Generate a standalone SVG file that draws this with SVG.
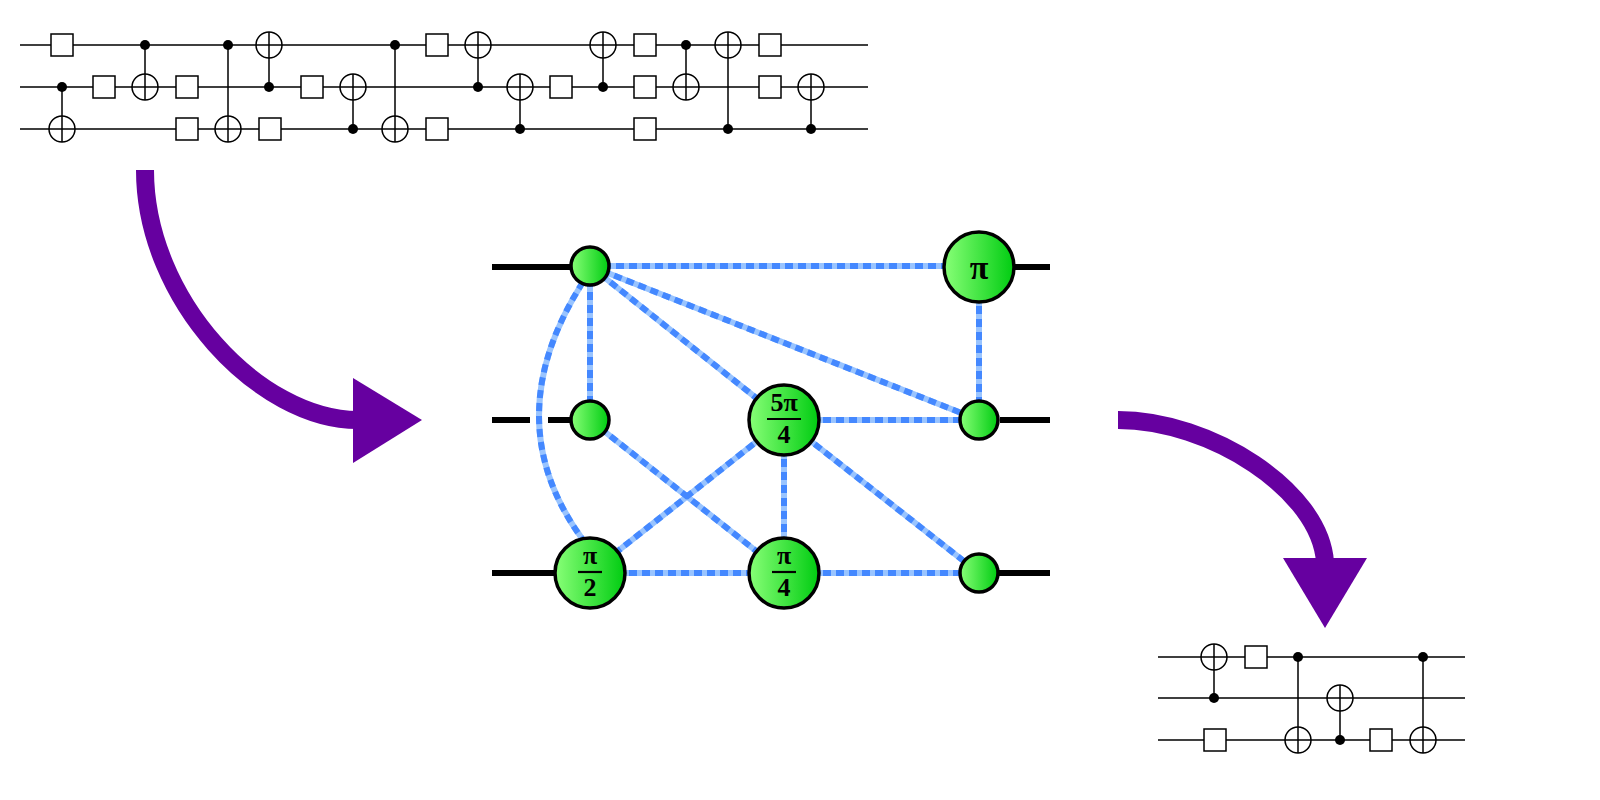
<svg xmlns="http://www.w3.org/2000/svg" width="1600" height="800" viewBox="0 0 1600 800">
<defs>
<linearGradient id="g" x1="0" x2="1" y1="0" y2="0"><stop offset="0" stop-color="#88ff77"/><stop offset="1" stop-color="#00cc11"/></linearGradient>
<g id="box"><rect x="-11" y="-11" width="22" height="22" fill="#fff" stroke="#000" stroke-width="1.5"/></g>
<g id="tg"><circle r="13" fill="#fff" stroke="#000" stroke-width="1.5"/><path d="M-13,0H13M0,-13V13" stroke="#000" stroke-width="1.5"/></g>
<circle id="dot" r="5" fill="#000"/>
</defs>
<style>
.w{stroke:#000;stroke-width:1.5;fill:none}
.hl{stroke:#99c4ff;stroke-width:6;fill:none}
.hd{stroke:#4488ff;stroke-width:6;fill:none;stroke-dasharray:8 5}
.bw{stroke:#000;stroke-width:6}
.n{fill:url(#g);stroke:#000;stroke-width:3.5}
.t{font-family:"Liberation Serif",serif;font-weight:bold;fill:#000;text-anchor:middle}
.ar{stroke:#6600a0;stroke-width:18;fill:none}
</style>
<g id="circuit1">
<path class="w" d="M20,45H868M20,87H868M20,129H868"/>
<path class="w" d="M62,87V142M145,45V100M228,45V142M269,32V87M353,74V129M395,45V142M478,32V87M520,74V129M603,32V87M686,45V100M728,32V129M811,74V129"/>
<use href="#box" x="62" y="45"/><use href="#dot" x="62" y="87"/><use href="#tg" x="62" y="129"/>
<use href="#box" x="104" y="87"/>
<use href="#dot" x="145" y="45"/><use href="#tg" x="145" y="87"/>
<use href="#box" x="187" y="87"/><use href="#box" x="187" y="129"/>
<use href="#dot" x="228" y="45"/><use href="#tg" x="228" y="129"/>
<use href="#tg" x="269" y="45"/><use href="#dot" x="269" y="87"/><use href="#box" x="270" y="129"/>
<use href="#box" x="312" y="87"/>
<use href="#tg" x="353" y="87"/><use href="#dot" x="353" y="129"/>
<use href="#dot" x="395" y="45"/><use href="#tg" x="395" y="129"/>
<use href="#box" x="437" y="45"/><use href="#box" x="437" y="129"/>
<use href="#tg" x="478" y="45"/><use href="#dot" x="478" y="87"/>
<use href="#tg" x="520" y="87"/><use href="#dot" x="520" y="129"/>
<use href="#box" x="561" y="87"/>
<use href="#tg" x="603" y="45"/><use href="#dot" x="603" y="87"/>
<use href="#box" x="645" y="45"/><use href="#box" x="645" y="87"/><use href="#box" x="645" y="129"/>
<use href="#dot" x="686" y="45"/><use href="#tg" x="686" y="87"/>
<use href="#tg" x="728" y="45"/><use href="#dot" x="728" y="129"/>
<use href="#box" x="770" y="45"/><use href="#box" x="770" y="87"/>
<use href="#tg" x="811" y="87"/><use href="#dot" x="811" y="129"/>
</g>
<g id="circuit2">
<path class="w" d="M1158,657H1465M1158,698H1465M1158,740H1465"/>
<path class="w" d="M1214,644V698M1298,657V753M1340,685V740M1423,657V753"/>
<use href="#tg" x="1214" y="657"/><use href="#dot" x="1214" y="698"/><use href="#box" x="1215" y="740"/>
<use href="#box" x="1256" y="657"/>
<use href="#dot" x="1298" y="657"/><use href="#tg" x="1298" y="740"/>
<use href="#tg" x="1340" y="698"/><use href="#dot" x="1340" y="740"/>
<use href="#box" x="1381" y="740"/>
<use href="#dot" x="1423" y="657"/><use href="#tg" x="1423" y="740"/>
</g>
<g id="arrows">
<path class="ar" d="M145,170C145,300 260,420 358,420"/>
<polygon points="353,378 422,420 353,463" fill="#6600a0"/>
<path class="ar" d="M1118,420C1210,420 1320,490 1325,562"/>
<polygon points="1283,558 1367,558 1325,628" fill="#6600a0"/>
</g>
<g id="connectors">
<path class="bw" d="M492,267H572M1014,267H1050M492,420H530M548,420H572M1000,420H1050M492,573H555M997,573H1050"/>
<g id="hedges">
<path class="hl" d="M590,266H979M590,266V420M590,266L784,420M590,266L979,420M583,282Q495,420 583,540M979,267V420M590,420L784,573M784,420H979M784,420L590,573M784,420V573M784,420L979,573M590,573H784M784,573H979"/>
<path class="hd" d="M590,266H979M590,266V420M590,266L784,420M590,266L979,420M583,282Q495,420 583,540M979,267V420M590,420L784,573M784,420H979M784,420L590,573M784,420V573M784,420L979,573M590,573H784M784,573H979"/>
</g>
</g>
<g id="nA"><circle class="n" cx="590" cy="266" r="19"/></g>
<g id="nB"><circle class="n" cx="979" cy="267" r="35"/><text class="t" x="979" y="279" font-size="34">π</text></g>
<g id="nC"><circle class="n" cx="590" cy="420" r="19"/></g>
<g id="nD"><circle class="n" cx="784" cy="420" r="35"/><text class="t" x="784" y="411" font-size="26">5π</text><path d="M767,419H801" stroke="#000" stroke-width="2.2"/><text class="t" x="784" y="443" font-size="26">4</text></g>
<g id="nE"><circle class="n" cx="979" cy="420" r="19"/></g>
<g id="nF"><circle class="n" cx="590" cy="573" r="35"/><text class="t" x="590" y="564" font-size="26">π</text><path d="M578,572H602" stroke="#000" stroke-width="2.2"/><text class="t" x="590" y="596" font-size="26">2</text></g>
<g id="nG"><circle class="n" cx="784" cy="573" r="35"/><text class="t" x="784" y="564" font-size="26">π</text><path d="M772,572H796" stroke="#000" stroke-width="2.2"/><text class="t" x="784" y="596" font-size="26">4</text></g>
<g id="nH"><circle class="n" cx="979" cy="573" r="19"/></g>
</svg>
